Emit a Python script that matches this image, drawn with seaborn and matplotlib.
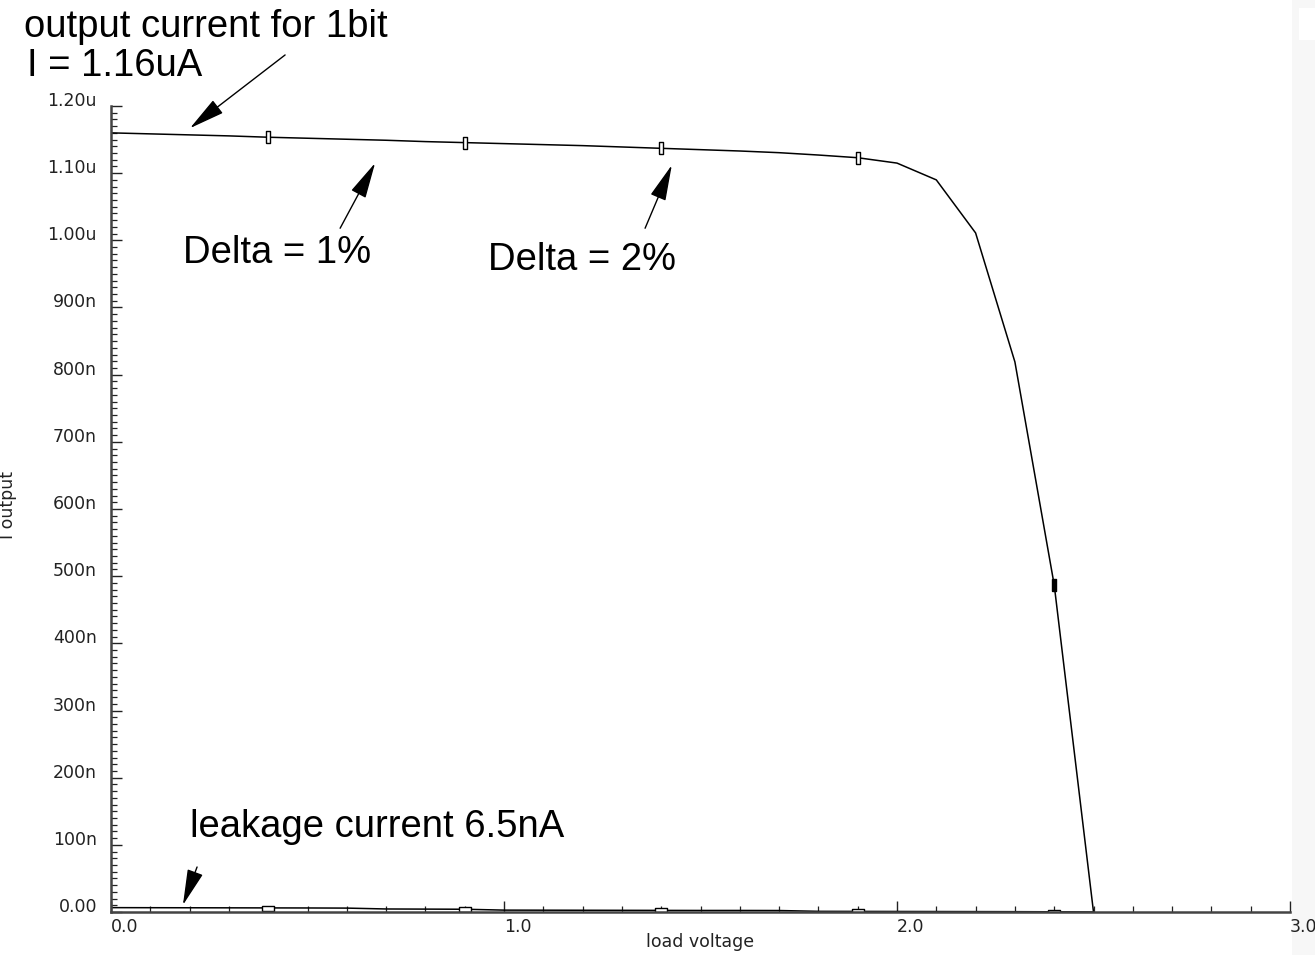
import numpy as np
import pandas as pd
import matplotlib
matplotlib.use("Agg")
import matplotlib.pyplot as plt
from matplotlib.ticker import FuncFormatter, MultipleLocator
from matplotlib.patches import Rectangle
import seaborn as sns

# Load-voltage sweep (V) and simulated output currents (nA)
load_voltage = [0.0, 0.1, 0.2, 0.3, 0.4, 0.5, 0.6, 0.7, 0.8, 0.9,
                1.0, 1.1, 1.2, 1.3, 1.4, 1.5, 1.6, 1.7, 1.8, 1.9,
                2.0, 2.1, 2.2, 2.3, 2.4, 2.5]
i_out_1bit = [1160.0, 1158.5, 1157.0, 1155.5, 1153.5, 1152.0, 1150.5, 1149.0, 1147.0, 1145.5,
              1144.0, 1142.5, 1141.0, 1139.0, 1137.0, 1135.0, 1133.0, 1130.5, 1127.0, 1123.0,
              1115.0, 1090.0, 1011.0, 819.0, 487.0, 0.0]
i_leakage = [6.5, 6.4, 6.3, 6.2, 6.1, 6.0, 5.8, 4.5, 4.3, 4.1,
             2.8, 2.7, 2.6, 2.5, 2.4, 2.3, 2.3, 2.2, 1.0, 0.9,
             0.8, 0.7, 0.6, 0.5, 0.3, 0.0]
marker_idx = [4, 9, 14, 19]
solid_marker_idx = [24]

df = pd.DataFrame({"load voltage": load_voltage,
                   "bit": i_out_1bit,
                   "leak": i_leakage})

sns.set_theme(style="white")
plt.rcParams["font.family"] = ["DejaVu Sans"]

fig = plt.figure(figsize=(13.15, 9.55), dpi=100)
ax = fig.add_axes([111 / 1315, 1 - 912 / 955, (1290 - 111) / 1315, (912 - 106) / 955])

vbar = [(-0.35, -1), (0.35, -1), (0.35, 1), (-0.35, 1), (-0.35, -1)]
hbar = [(-1, -0.45), (1, -0.45), (1, 0.45), (-1, 0.45), (-1, -0.45)]

sns.lineplot(data=df, x="load voltage", y="bit", ax=ax, color="black", lw=1.1,
             marker=vbar, markersize=8, markevery=marker_idx,
             markerfacecolor="white", markeredgecolor="black", markeredgewidth=1.0)
sns.lineplot(data=df, x="load voltage", y="leak", ax=ax, color="black", lw=1.1,
             marker=hbar, markersize=8, markevery=marker_idx + solid_marker_idx,
             markerfacecolor="white", markeredgecolor="black", markeredgewidth=1.0)
sns.scatterplot(data=df.iloc[solid_marker_idx], x="load voltage", y="bit", ax=ax,
                marker=vbar, s=64, color="black", edgecolor="black", linewidth=1.0,
                zorder=5)

ax.set_xlim(0, 3.0)
ax.set_ylim(0, 1200)


def fmt_current(v, pos):
    if abs(v) < 1e-9:
        return "0.00"
    if v >= 1000:
        return f"{v / 1000:.2f}u"
    return f"{v:.0f}n"


ax.yaxis.set_major_locator(MultipleLocator(100))
ax.yaxis.set_minor_locator(MultipleLocator(10))
ax.yaxis.set_major_formatter(FuncFormatter(fmt_current))
ax.xaxis.set_major_locator(MultipleLocator(1.0))
ax.xaxis.set_minor_locator(MultipleLocator(0.1))
ax.xaxis.set_major_formatter(FuncFormatter(lambda v, p: f"{v:.1f}"))

for s in ["top", "right"]:
    ax.spines[s].set_visible(False)
for s in ["left", "bottom"]:
    ax.spines[s].set_color("#444444")
    ax.spines[s].set_linewidth(1.8)

ax.tick_params(axis="both", which="major", direction="in", length=8, width=1.0,
               color="#222222", labelsize=12.5, labelcolor="#222222")
ax.tick_params(axis="both", which="minor", direction="in", length=4, width=0.9,
               color="#222222")
ax.tick_params(axis="y", which="major", pad=10)
ax.tick_params(axis="x", which="major", pad=4)
ax.tick_params(axis="x", which="both", bottom=True)
ax.tick_params(axis="y", which="both", left=True)
for lab in ax.get_xticklabels():
    lab.set_horizontalalignment("left")
for lab in ax.get_yticklabels():
    lab.set_verticalalignment("baseline")

ax.set_xlabel("load voltage", fontsize=12.5, color="#222222")
ax.set_ylabel("I output", fontsize=12.5, color="#222222")
ax.xaxis.set_label_coords(0.5, -0.026)
ax.yaxis.set_label_coords(-0.080, 0.505)

# Annotations (arrow heads in data coordinates)
arrow = dict(arrowstyle="-|>,head_length=0.75,head_width=0.17", color="black",
             lw=1.0, mutation_scale=30, shrinkA=0, shrinkB=0)
note_font = dict(family="Liberation Sans", fontsize=27.5, color="black")

ax.annotate("", xy=(0.201, 1167), xytext=(0.443, 1276),
            arrowprops=arrow, annotation_clip=False)
ax.text(-0.221, 1302, "output current for 1bit", ha="left", va="baseline",
        clip_on=False, **note_font)
ax.text(-0.214, 1245, "I = 1.16uA", ha="left", va="baseline",
        clip_on=False, **note_font)

ax.annotate("", xy=(0.672, 1115), xytext=(0.583, 1018), arrowprops=arrow)
ax.text((183 - 111) / 393, (912 - 253) / 0.6717, "Delta = 1%", ha="left",
        va="center", **note_font)

ax.annotate("", xy=(1.427, 1112), xytext=(1.359, 1018), arrowprops=arrow)
ax.text((488 - 111) / 393, (912 - 260) / 0.6717, "Delta = 2%", ha="left",
        va="center", **note_font)

ax.annotate("", xy=(0.183, 10.4), xytext=(0.219, 67), arrowprops=arrow,
            annotation_clip=False)
ax.text((190 - 111) / 393, (912 - 827) / 0.6717, "leakage current 6.5nA",
        ha="left", va="center", **note_font)

# Right-hand window strip
fig.patches.append(Rectangle((1292 / 1315, 0), 23 / 1315, 1, transform=fig.transFigure,
                             facecolor="#f7f7f7", edgecolor="none", zorder=-1))
fig.patches.append(Rectangle((1299 / 1315, 1 - 40 / 955), 16 / 1315, 32 / 955,
                             transform=fig.transFigure, facecolor="white",
                             edgecolor="none", zorder=-1))

fig.savefig("out.png", dpi=100)
